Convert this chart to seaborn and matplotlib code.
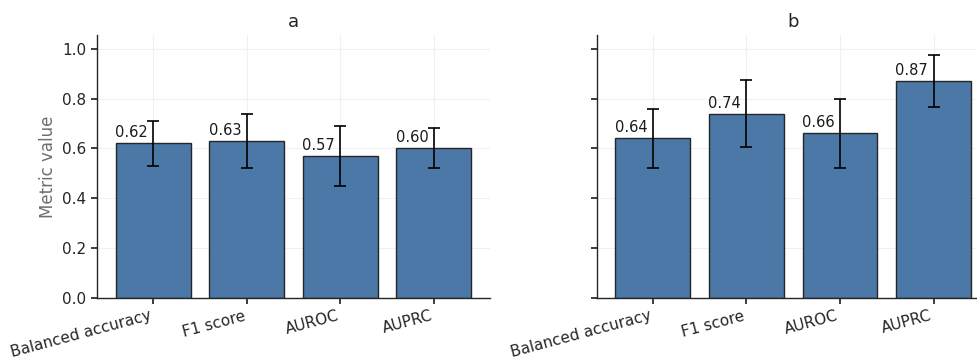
import numpy as np
import pandas as pd
import matplotlib
matplotlib.use("Agg")
import matplotlib.pyplot as plt
import seaborn as sns

metrics = ["Balanced accuracy", "F1 score", "AUROC", "AUPRC"]
values_a = [0.62, 0.63, 0.57, 0.60]
errors_a = [0.09, 0.11, 0.12, 0.08]
values_b = [0.64, 0.74, 0.66, 0.87]
errors_b = [0.12, 0.134, 0.138, 0.105]
panel_titles = ["a", "b"]
yticks = [0.0, 0.2, 0.4, 0.6, 0.8, 1.0]

sns.set_theme(style="ticks")
plt.rcParams['font.family'] = ['DejaVu Sans']

fig = plt.figure(figsize=(9.77, 3.62), dpi=100)
ax_a = fig.add_axes([0.0993, 0.1768, 0.4023, 0.7265])
ax_b = fig.add_axes([0.6107, 0.1768, 0.4023, 0.7265], sharey=ax_a)

bar_color = "#4C78A8"
for ax, vals, errs, title in [(ax_a, values_a, errors_a, panel_titles[0]),
                              (ax_b, values_b, errors_b, panel_titles[1])]:
    df = pd.DataFrame({"metric": metrics, "value": vals, "err": errs})
    sns.barplot(data=df, x="metric", y="value", color=bar_color, ax=ax,
                width=0.8, edgecolor="#262626", linewidth=1.0, saturation=1)
    xs = np.arange(len(metrics))
    ax.errorbar(xs, df["value"], yerr=df["err"], fmt="none", ecolor="black",
                elinewidth=1.2, capsize=4, capthick=1.2, zorder=5)
    for x, v in zip(xs, vals):
        ax.text(x - 0.06, v + 0.012, f"{v:.2f}", ha="right", va="bottom",
                fontsize=10.5, color="#1a1a1a", zorder=6)
    ax.set_xlim(-0.6, 3.6)
    ax.set_ylim(0, 1.055)
    ax.set_yticks(yticks)
    ax.set_title(title, fontsize=13, pad=6)
    ax.set_xlabel("")
    ax.grid(True, color="#f0f0f0", linewidth=0.8)
    ax.set_axisbelow(True)
    sns.despine(ax=ax)
    ax.tick_params(axis="both", labelsize=11, colors="#262626", length=4)
    ax.set_xticks(xs)
    ax.set_xticklabels(metrics, rotation=15, ha="right")
    for sp in ["left", "bottom"]:
        ax.spines[sp].set_color("#262626")
        ax.spines[sp].set_linewidth(1.0)

ax_a.set_ylabel("Metric value", fontsize=12, color="#6e6e6e")
ax_b.set_ylabel("")
plt.setp(ax_b.get_yticklabels(), visible=False)

fig.savefig("out.png", dpi=100)
